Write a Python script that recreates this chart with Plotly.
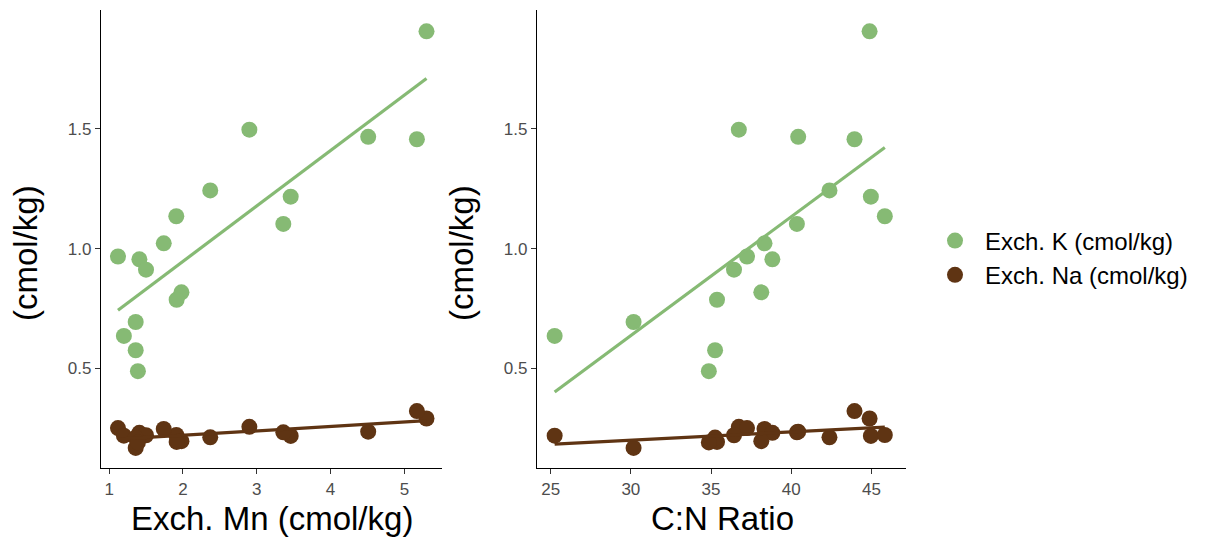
import numpy as np
import plotly.graph_objects as go

# Per-sample values
mn = [5.30, 2.90, 4.51, 5.17, 2.37, 3.46, 1.91, 3.36, 1.74, 1.12, 1.41, 1.50, 1.98, 1.915, 1.36, 1.20, 1.36, 1.39]
cn = [44.88, 36.73, 40.43, 43.94, 42.38, 44.96, 45.83, 40.35, 38.33, 37.24, 38.82, 36.43, 38.13, 35.37, 30.17, 25.25, 35.25, 34.86]
k_vals = [1.908, 1.497, 1.467, 1.457, 1.243, 1.217, 1.135, 1.103, 1.022, 0.967, 0.955, 0.912, 0.817, 0.786, 0.693, 0.635, 0.575, 0.4875]
na_vals = [0.290, 0.255, 0.235, 0.321, 0.211, 0.217, 0.221, 0.232, 0.246, 0.250, 0.230, 0.220, 0.195, 0.192, 0.167, 0.218, 0.210, 0.190]

series_names = ["Exch. K (cmol/kg)", "Exch. Na (cmol/kg)"]
colors = ["#86BA74", "#5F3413"]
x_titles = ["Exch. Mn (cmol/kg)", "C:N Ratio"]
y_title = "(cmol/kg)"
y_ticks = [0.5, 1.0, 1.5]
x_ticks_left = [1, 2, 3, 4, 5]
x_ticks_right = [25, 30, 35, 40, 45]

# page body has an 8px margin; the figure is sized to fit the window
OFF = 8
W, H = 1208 - OFF, 538 - OFF
FONT = "Liberation Sans, Arial, sans-serif"

def fx(px):
    return (px - OFF) / W

def fy(py):
    return 1 - (py - OFF) / H

fig = go.Figure()

panels = [(mn, "x", "y"), (cn, "x2", "y2")]
for pi, (xv, xa, ya) in enumerate(panels):
    xarr = np.array(xv)
    for si, yv in enumerate([k_vals, na_vals]):
        fig.add_trace(go.Scatter(
            x=xv, y=yv, mode="markers", xaxis=xa, yaxis=ya,
            marker=dict(color=colors[si], size=16, line=dict(width=0)),
            name=series_names[si],
            showlegend=(pi == 0),
        ))
    for si, yv in enumerate([k_vals, na_vals]):
        b, a = np.polyfit(xarr, np.array(yv), 1)
        xs = np.array([xarr.min(), xarr.max()])
        fig.add_trace(go.Scatter(
            x=xs, y=a + b * xs, mode="lines", xaxis=xa, yaxis=ya,
            line=dict(color=colors[si], width=3.2),
            showlegend=False, hoverinfo="skip",
        ))

axis_common = dict(showgrid=False, zeroline=False, showline=True, linecolor="black",
                   linewidth=1.3, ticks="outside", ticklen=5, tickcolor="#333333",
                   tickfont=dict(family=FONT, size=17, color="#4D4D4D"))

fig.update_layout(
    width=W, height=H,
    margin=dict(l=0, r=0, t=0, b=0),
    paper_bgcolor="white", plot_bgcolor="white",
    font=dict(family=FONT),
    xaxis=dict(domain=[fx(101), fx(442)], range=[0.89, 5.51], tickvals=x_ticks_left,
               anchor="y", **axis_common),
    yaxis=dict(domain=[fy(468), fy(10)], range=[0.083, 1.997], tickvals=y_ticks,
               tickformat=".1f", anchor="x", **axis_common),
    xaxis2=dict(domain=[fx(537), fx(906)], range=[24.15, 47.15], tickvals=x_ticks_right,
                anchor="y2", **axis_common),
    yaxis2=dict(domain=[fy(468), fy(10)], range=[0.083, 1.997], tickvals=y_ticks,
                tickformat=".1f", anchor="x2", **axis_common),
    legend=dict(x=fx(925), y=fy(258), xanchor="left", yanchor="middle",
                font=dict(family=FONT, size=24, color="black"),
                bgcolor="rgba(0,0,0,0)", itemsizing="trace", itemwidth=50,
                borderwidth=0, tracegroupgap=0),
    showlegend=True,
)

title_font = dict(family=FONT, size=33, color="black")
ann = [
    dict(text=x_titles[0], x=fx(272), y=fy(518)),
    dict(text=x_titles[1], x=fx(722), y=fy(518)),
    dict(text=y_title, x=fx(25), y=fy(253), textangle=-90),
    dict(text=y_title, x=fx(461), y=fy(253), textangle=-90),
]
for a in ann:
    a.update(xref="paper", yref="paper", showarrow=False, xanchor="center",
             yanchor="middle", font=title_font)
fig.update_layout(annotations=ann)

fig.write_html("out.html")
